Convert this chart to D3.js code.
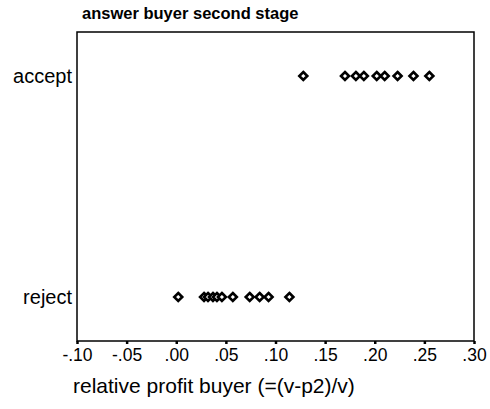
<!DOCTYPE html>
<html>
<head>
<meta charset="utf-8">
<script src="https://cdn.jsdelivr.net/npm/d3@7"></script>
<style>
  body { margin: 0; background: #fff; }
  text { font-family: Arial, "Liberation Sans", sans-serif; fill: #000; }
</style>
</head>
<body>
<svg id="chart" width="490" height="409"></svg>
<script>
const categories = ["accept", "reject"];
const acceptValues = [0.128, 0.170, 0.181, 0.189, 0.202, 0.210, 0.223, 0.239, 0.255];
const rejectValues = [0.002, 0.028, 0.032, 0.037, 0.041, 0.046, 0.057, 0.074, 0.084, 0.093, 0.114];
const xTicks = [-0.10, -0.05, 0.00, 0.05, 0.10, 0.15, 0.20, 0.25, 0.30];
const xTickLabels = ["-.10", "-.05", ".00", ".05", ".10", ".15", ".20", ".25", ".30"];
const titleText = "answer buyer second stage";
const xTitle = "relative profit buyer (=(v-p2)/v)";

const svg = d3.select("#chart");
const L = 77, R = 474, T = 32, B = 341;

const x = d3.scaleLinear().domain([-0.10, 0.30]).range([L, R]);
const y = d3.scalePoint().domain(categories).range([76, 297]);

// frame
svg.append("rect").attr("x", L).attr("y", T).attr("width", R - L).attr("height", B - T)
  .attr("fill", "none").attr("stroke", "#000").attr("stroke-width", 1.5);

// x axis
const xAxis = d3.axisBottom(x).tickValues(xTicks)
  .tickFormat((d, i) => xTickLabels[i]).tickSize(3).tickPadding(4);
const gx = svg.append("g").attr("transform", `translate(0,${B})`).call(xAxis);
gx.select(".domain").remove();
gx.selectAll(".tick line").attr("stroke", "#000").attr("stroke-width", 2.5);
gx.selectAll(".tick text").attr("font-size", 17.5).attr("font-family", "Arial, 'Liberation Sans', sans-serif").attr("dy", "0.71em").attr("y", 8);

// y labels
svg.append("g").selectAll("text").data(categories).join("text")
  .attr("x", 72).attr("y", d => y(d)).attr("dy", "0.33em")
  .attr("text-anchor", "end").attr("font-size", 20).text(d => d);

// title
svg.append("text").attr("x", 82).attr("y", 19).attr("font-size", 16.5)
  .attr("font-weight", "bold").text(titleText);

// x title
svg.append("text").attr("x", 73).attr("y", 393).attr("font-size", 21).text(xTitle);

// points
const diamond = "M0,-4L4,0L0,4L-4,0Z";
const pts = acceptValues.map(v => ({v, c: "accept"})).concat(rejectValues.map(v => ({v, c: "reject"})));
svg.append("g").selectAll("path").data(pts).join("path")
  .attr("d", diamond)
  .attr("transform", d => `translate(${x(d.v)},${y(d.c)})`)
  .attr("fill", "#fff").attr("stroke", "#000").attr("stroke-width", 2.6);
</script>
</body>
</html>
